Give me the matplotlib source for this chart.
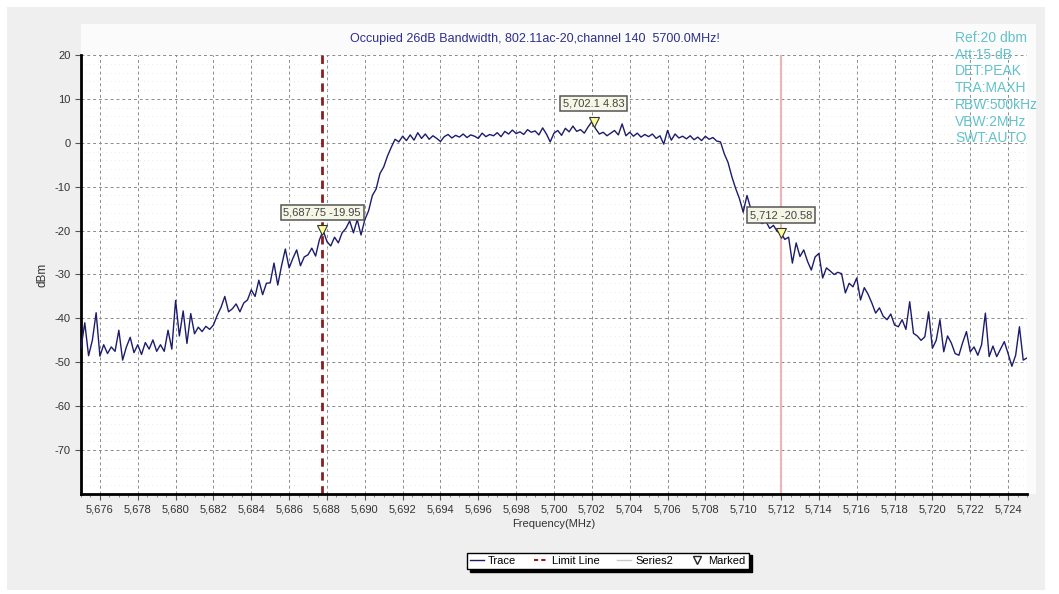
import numpy as np
import matplotlib
matplotlib.use("Agg")
import matplotlib.pyplot as plt
from matplotlib.lines import Line2D
from matplotlib.patches import Rectangle
from matplotlib.ticker import MultipleLocator, FuncFormatter

""" spectrum sweep, 5675 - 5725 MHz, 0.2 MHz step """
freq_start = 5675.0
freq_stop = 5725.0
freq_step = 0.2

# level in dBm, one row per 2 MHz
level = [
    -46.7, -41.0, -48.5, -45.0, -38.7, -48.6, -46.0, -48.0, -46.5, -47.5,   # 5675
    -42.7, -49.5, -46.5, -44.3, -47.8, -46.0, -48.2, -45.5, -47.0, -44.9,   # 5677
    -47.5, -46.0, -47.5, -42.7, -47.0, -35.9, -44.0, -38.3, -45.7, -38.9,   # 5679
    -43.5, -42.0, -43.0, -41.8, -42.5, -41.5, -39.3, -37.5, -35.0, -38.5,   # 5681
    -37.8, -36.7, -38.5, -36.5, -35.8, -33.5, -35.0, -31.3, -34.6, -32.0,   # 5683
    -31.9, -27.4, -32.4, -28.0, -24.2, -28.5, -26.3, -24.4, -28.0, -26.0,   # 5685
    -25.5, -24.0, -25.8, -22.1, -20.0, -22.5, -23.5, -21.5, -22.8, -20.5,   # 5687
    -19.5, -17.8, -20.5, -17.5, -21.0, -17.5, -15.5, -12.0, -10.5, -7.0,    # 5689
    -5.5, -3.0, -1.0, 0.8, 0.2, 1.5, 0.5, 1.8, 0.6, 2.3,                    # 5691
    1.0, 2.0, 0.8, 1.6, 1.0, 0.3, 1.4, 1.9, 1.1, 1.7,                       # 5693
    1.3, 2.0, 1.2, 1.8, 1.5, 1.0, 2.2, 1.4, 1.9, 1.6,                       # 5695
    2.3, 1.4, 2.6, 2.0, 2.9, 2.1, 2.5, 1.9, 3.0, 2.4,                       # 5697
    2.7, 1.8, 3.4, 2.0, 0.2, 2.2, 2.8, 1.7, 3.3, 2.5,                       # 5699
    3.8, 2.6, 3.0, 2.2, 3.6, 4.8, 3.2, 2.0, 2.4, 1.6,                       # 5701
    2.2, 2.8, 1.8, 4.3, 1.6, 2.4, 1.5, 2.2, 1.3, 1.9,                       # 5703
    1.4, 2.0, 1.0, 1.6, -0.3, 2.8, 0.6, 2.0, 1.1, 1.5,                      # 5705
    0.9, 1.6, 0.7, 1.3, 0.5, 1.5, 0.8, 1.2, 0.4, 0.2,                       # 5707
    -2.5, -4.5, -7.7, -10.4, -12.7, -15.8, -12.0, -15.0, -17.0, -17.8,      # 5709
    -18.4, -17.9, -19.5, -18.8, -20.2, -20.6, -22.0, -21.5, -27.4, -22.8,   # 5711
    -25.9, -24.4, -27.0, -29.0, -26.0, -25.2, -30.8, -28.5, -29.2, -30.0,   # 5713
    -29.5, -29.8, -34.2, -32.0, -32.8, -30.8, -35.8, -33.0, -34.5, -36.5,   # 5715
    -38.8, -37.6, -39.5, -40.3, -39.0, -41.5, -41.9, -40.3, -42.5, -36.2,   # 5717
    -43.4, -44.0, -45.0, -44.2, -38.5, -46.8, -45.0, -40.3, -47.6, -44.0,   # 5719
    -45.6, -48.0, -48.4, -45.5, -43.0, -47.6, -46.5, -48.4, -46.0, -38.8,   # 5721
    -48.7, -46.3, -48.7, -47.0, -45.3, -48.0, -50.9, -48.4, -41.9, -49.5,   # 5723
    -49.0,
]
freq = freq_start + freq_step * np.arange(len(level))

# limit lines (26 dB points) and markers
limit_freq = [5687.75, 5712.0]
marker_freq = [5687.75, 5702.1, 5712.0]
marker_level = [-19.95, 4.83, -20.58]

title = "Occupied 26dB Bandwidth, 802.11ac-20,channel 140  5700.0MHz!"
setup_lines = ["Ref:20 dbm", "Att:15 dB", "DET:PEAK", "TRA:MAXH",
               "RBW:500kHz", "VBW:2MHz", "SWT:AUTO"]

plt.rcParams['font.family'] = ['Liberation Sans', 'DejaVu Sans']
plt.rcParams['axes.unicode_minus'] = False

W, H = 1059, 594
fig = plt.figure(figsize=(W / 100, H / 100), dpi=100)
fig.patch.set_facecolor('white')
# grey panel behind the chart
fig.patches.append(Rectangle((7 / W, 4 / H), 1038 / W, 583 / H, transform=fig.transFigure,
                             facecolor='#efefef', edgecolor='none', zorder=-10))
fig.patches.append(Rectangle((81 / W, 100 / H), 955 / W, 470 / H,
                             transform=fig.transFigure, facecolor='#fbfbfb',
                             edgecolor='none', zorder=-9))

ax = fig.add_axes([81 / W, 1 - 494 / H, 946 / W, (494 - 55) / H])
ax.set_facecolor('white')

# trace
ax.plot(freq, level, color='#1c1c6c', lw=1.0, zorder=3)

# limit lines
ax.axvline(limit_freq[0], color='#8b1e1e', lw=2.0, dashes=(3, 2), zorder=2)
ax.axvline(limit_freq[1], color='#e9b7b7', lw=1.6, zorder=2)

# markers + labels
ax.plot(marker_freq, marker_level, linestyle='none', marker='v', markersize=7,
        markerfacecolor='#ffff99', markeredgecolor='#333333', markeredgewidth=0.8, zorder=5)
for f, l in zip(marker_freq, marker_level):
    txt = f"{f:,.2f}".rstrip('0').rstrip('.') + f" {l}"
    ax.annotate(txt, (f, l), xytext=(0, 13), textcoords='offset points',
                ha='center', va='center', fontsize=8, color='#444444', zorder=6,
                bbox=dict(boxstyle='square,pad=0.25', fc='#f6f6e6', ec='#555555', lw=1.1))

ax.set_xlim(freq_start, freq_stop)
ax.set_ylim(-80, 20)
ax.xaxis.set_minor_locator(MultipleLocator(0.5))
ax.set_xticks(np.arange(5676, 5725, 2))
ax.xaxis.set_major_formatter(FuncFormatter(lambda v, p: f"{v:,.0f}"))
ax.set_yticks(np.arange(-70, 21, 10))
ax.yaxis.set_minor_locator(MultipleLocator(2))

ax.grid(True, which='major', color='#8a8a8a', lw=0.7, dashes=(3, 3))
ax.grid(True, which='minor', axis='y', color='#e4e4e4', lw=0.6, dashes=(1, 4))
ax.set_axisbelow(True)

for s in ['top', 'right']:
    ax.spines[s].set_visible(False)
for s in ['left', 'bottom']:
    ax.spines[s].set_linewidth(2.0)
    ax.spines[s].set_color('black')

ax.tick_params(axis='both', which='major', labelsize=8, labelcolor='#333333',
               length=4, width=0.8, color='#555555')
ax.tick_params(axis='x', which='minor', length=2.5, width=0.6, color='#777777')
ax.tick_params(axis='y', which='minor', length=0)

ax.set_xlabel("Frequency(MHz)", fontsize=8, color='#333333', labelpad=3)
ax.set_ylabel("dBm", fontsize=8.5, color='#333333', labelpad=4)

fig.text(535 / W, 1 - 39 / H, title, ha='center', va='center', fontsize=9, color='#2e2e8c')

for i, s in enumerate(setup_lines):
    fig.text(955 / W, 1 - (38 + i * 16.7) / H, s, ha='left', va='center',
             fontsize=10, color='#63c2ca')

handles = [
    Line2D([], [], color='#1c1c6c', lw=1),
    Line2D([], [], color='#8b1e1e', lw=1.5, dashes=(2, 1.5)),
    Line2D([], [], color='#c8c8c8', lw=1),
    Line2D([], [], linestyle='none', marker='v', markersize=6,
           markerfacecolor='none', markeredgecolor='#222222'),
]
fig.legend(handles, ["Trace", "Limit Line", "Series2", "Marked"], loc='center',
           bbox_to_anchor=(608 / W, 1 - 561 / H), ncol=4, fontsize=8, frameon=True,
           fancybox=False, edgecolor='black', facecolor='white', framealpha=1,
           handlelength=1.2, handletextpad=0.4, columnspacing=1.6, borderpad=0.3,
           shadow={'color': 'black', 'alpha': 1})

fig.savefig("out.png", dpi=100)
